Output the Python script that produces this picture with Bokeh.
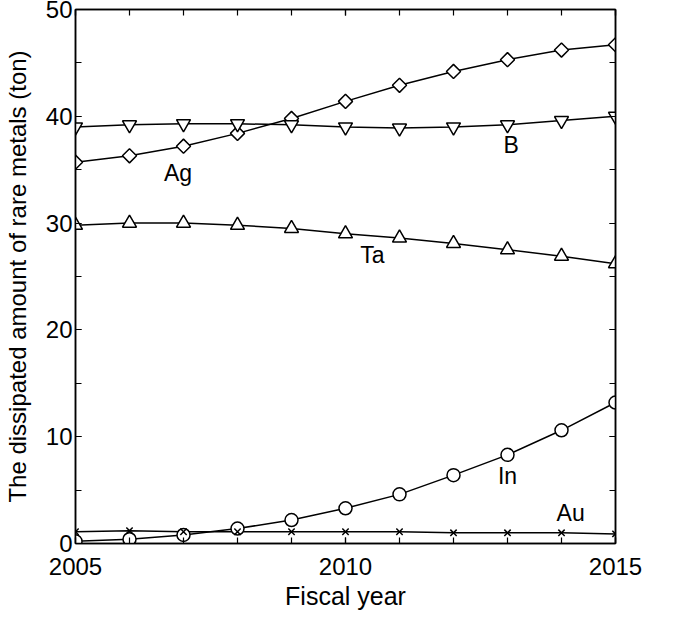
import math
from bokeh.plotting import figure
from bokeh.models import FixedTicker, LinearAxis, Range1d
from bokeh.core.properties import value
from bokeh.embed import file_html
from bokeh.resources import INLINE

years = [2005, 2006, 2007, 2008, 2009, 2010, 2011, 2012, 2013, 2014, 2015]
ag = [35.7, 36.3, 37.2, 38.4, 39.8, 41.4, 42.9, 44.2, 45.3, 46.2, 46.7]
b = [39.0, 39.2, 39.3, 39.3, 39.2, 39.0, 38.9, 39.0, 39.2, 39.6, 40.0]
ta = [29.8, 30.0, 30.0, 29.8, 29.5, 29.0, 28.6, 28.1, 27.5, 26.9, 26.2]
in_ = [0.2, 0.4, 0.8, 1.4, 2.2, 3.3, 4.6, 6.4, 8.3, 10.6, 13.2]
au = [1.1, 1.2, 1.1, 1.1, 1.1, 1.1, 1.1, 1.0, 1.0, 1.0, 0.9]

label_names = ["Ag", "B", "Ta", "In", "Au"]
label_x = [2006.9, 2013.07, 2010.5, 2013.0, 2014.17]
label_y = [34.7, 37.3, 27.0, 6.3, 2.9]

x_title = "Fiscal year"
y_title = "The dissipated amount of rare metals (ton)"

x_major = [2005, 2010, 2015]
x_minor = years
y_major = [0, 10, 20, 30, 40, 50]
y_minor = [0, 5, 10, 15, 20, 25, 30, 35, 40, 45, 50]

FONT = "Liberation Sans"

p = figure(width=666, height=620, output_backend="svg", toolbar_location=None,
           x_range=Range1d(2005, 2015), y_range=Range1d(0, 50),
           min_border_left=75, min_border_right=51, min_border_top=9, min_border_bottom=77)
p.xgrid.visible = False
p.ygrid.visible = False
p.outline_line_color = "black"
p.outline_line_width = 1.5

def style(ax, ticks, minor, labels=True):
    ax.ticker = FixedTicker(ticks=ticks, minor_ticks=minor)
    ax.major_tick_in = 6
    ax.major_tick_out = 0
    ax.minor_tick_in = 6
    ax.minor_tick_out = 0
    ax.axis_line_width = 1.5
    ax.major_tick_line_width = 1.2
    ax.minor_tick_line_width = 1.2
    ax.major_label_text_font = FONT
    ax.major_label_text_font_size = "24px"
    ax.major_label_text_color = "black"
    ax.axis_label_text_font = FONT
    ax.axis_label_text_font_style = "normal"
    ax.axis_label_text_color = "black"
    if not labels:
        ax.major_label_text_color = None

style(p.xaxis[0], x_major, x_minor)
style(p.yaxis[0], y_major, y_minor)
p.xaxis[0].axis_label = x_title
p.yaxis[0].axis_label = y_title
p.xaxis[0].axis_label_text_font_size = "25px"
p.yaxis[0].axis_label_text_font_size = "24px"
p.xaxis[0].major_label_standoff = 14
p.yaxis[0].major_label_standoff = 3
p.xaxis[0].axis_label_standoff = 4
p.yaxis[0].axis_label_standoff = 12

top = LinearAxis()
style(top, x_major, x_minor, labels=False)
p.add_layout(top, "above")
right = LinearAxis()
style(right, y_major, y_minor, labels=False)
p.add_layout(right, "right")
top.major_label_text_font_size = "0px"
right.major_label_text_font_size = "0px"
top.major_label_standoff = 0
right.major_label_standoff = 0

lw = 1.5
for ys in [ag, b, ta, in_, au]:
    p.line(years, ys, line_color="black", line_width=lw)

p.scatter(years, ag, marker="square", size=10, angle=math.pi / 4, fill_color="white", line_color="black", line_width=lw)
p.scatter(years, b, marker="inverted_triangle", size=14, fill_color="white", line_color="black", line_width=lw)
p.scatter(years, ta, marker="triangle", size=14, fill_color="white", line_color="black", line_width=lw)
p.scatter(years, in_, marker="circle", size=13, fill_color="white", line_color="black", line_width=lw)
p.scatter(years, au, marker="x", size=9, line_color="black", line_width=lw)

p.text(label_x, label_y, text=label_names, text_font=value(FONT), text_font_size="23px",
       text_align="center", text_baseline="middle", text_color="black")

open("out.html", "w").write(file_html(p, INLINE))
